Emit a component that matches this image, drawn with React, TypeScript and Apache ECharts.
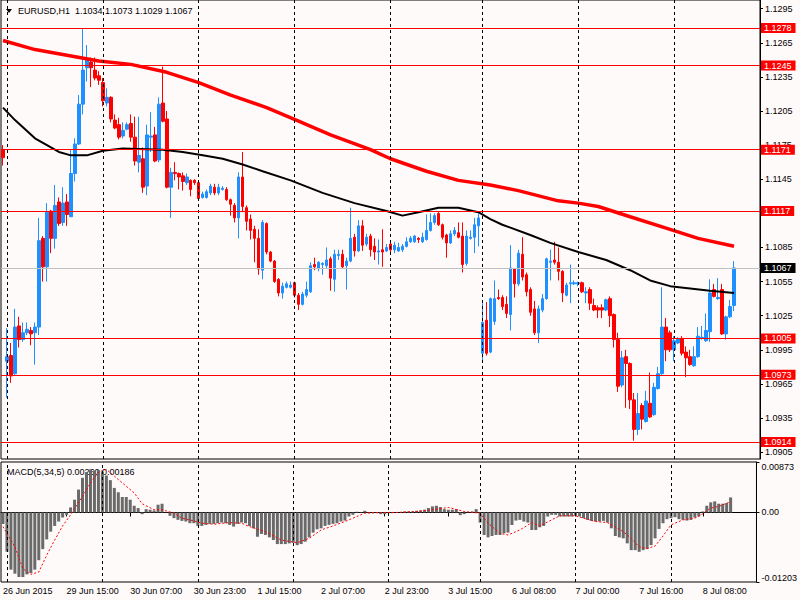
import React, { useEffect, useRef } from "react";
import * as echarts from "echarts";

const symbolTitle = "EURUSD,H1  1.1034 1.1073 1.1029 1.1067";
const macdTitle = "MACD(5,34,5) 0.00260 0.00186";

// trading sessions: [day, first hour, last hour]
const sessions: [string, number, number][] = [
  ["26 Jun", 23, 23], ["29 Jun", 0, 23], ["30 Jun", 0, 23], ["1 Jul", 0, 23], ["2 Jul", 0, 23],
  ["3 Jul", 0, 22], ["6 Jul", 0, 23], ["7 Jul", 0, 23], ["8 Jul", 0, 15],
];
const shiftBars = 6;
const firstLabel = "26 Jun 2015";
const labelIndex = [0, 16, 32, 48, 64, 80, 96, 112, 128, 144, 160, 176];
const daySeparators = [1, 25, 49, 73, 97, 120, 144, 168];

const levels = [1.1278, 1.1245, 1.1171, 1.1117, 1.1005, 1.0973, 1.0914];
const bidPrice = 1.1067;
// 1.1115 is hidden behind the 1.1117 tag in the reference, so it is not listed
const priceTicks = [1.0905, 1.0935, 1.0965, 1.0995, 1.1025, 1.1055, 1.1085, 1.1145, 1.1175, 1.1205, 1.1235, 1.1265, 1.1295];
const macdTicks = [-0.01203, 0, 0.00873];

const opens = [
  1.1171, 1.0985, 1.0990, 1.0974, 1.1016, 1.1004, 1.1010, 1.1012, 1.1010, 1.1015,
  1.1093, 1.1068, 1.1117, 1.1093, 1.1125, 1.1107, 1.1125, 1.1112, 1.1150, 1.1176,
  1.1211, 1.1243, 1.1248, 1.1241, 1.1236, 1.1230, 1.1212, 1.1217, 1.1197, 1.1193,
  1.1183, 1.1189, 1.1194, 1.1182, 1.1160, 1.1163, 1.1139, 1.1182, 1.1184, 1.1162,
  1.1212, 1.1198, 1.1138, 1.1151, 1.1150, 1.1148, 1.1142, 1.1144, 1.1144, 1.1142,
  1.1129, 1.1129, 1.1133, 1.1138, 1.1133, 1.1136, 1.1136, 1.1127, 1.1122, 1.1111,
  1.1147, 1.1120, 1.1110, 1.1101, 1.1093, 1.1065, 1.1106, 1.1081, 1.1073, 1.1057,
  1.1045, 1.1050, 1.1050, 1.1054, 1.1043, 1.1035, 1.1043, 1.1046, 1.1070, 1.1067,
  1.1070, 1.1069, 1.1075, 1.1057, 1.1078, 1.1079, 1.1069, 1.1073, 1.1094, 1.1082,
  1.1104, 1.1088, 1.1095, 1.1086, 1.1081, 1.1083, 1.1082, 1.1088, 1.1083, 1.1082,
  1.1083, 1.1086, 1.1090, 1.1090, 1.1093, 1.1090, 1.1092, 1.1100, 1.1107, 1.1115,
  1.1105, 1.1096, 1.1089, 1.1097, 1.1098, 1.1095, 1.1071, 1.1093, 1.1094, 1.1104,
  1.0992, 1.1021, 1.0993, 1.1020, 1.1041, 1.1041, 1.1035, 1.1026, 1.1066, 1.1053,
  1.1079, 1.1061, 1.1048, 1.1031, 1.1010, 1.1030, 1.1040, 1.1072, 1.1074, 1.1072,
  1.1064, 1.1043, 1.1053, 1.1053, 1.1053, 1.1054, 1.1045, 1.1048, 1.1034, 1.1032,
  1.1032, 1.1030, 1.1040, 1.1026, 1.1004, 1.0964, 1.0989, 1.0983, 1.0951, 1.0925,
  1.0946, 1.0932, 1.0948, 1.0938, 1.0961, 1.0974, 1.1015, 1.1010, 1.0995, 1.1001,
  1.1005, 1.0993, 1.0989, 1.0981, 1.0989, 1.1005, 1.1003, 1.1011, 1.1048, 1.1040,
  1.1048, 1.1009, 1.1024, 1.1034,
];
const closes = [
  1.1164, 1.0989, 1.0972, 1.1015, 1.1004, 1.1010, 1.1013, 1.1009, 1.1015, 1.1091,
  1.1068, 1.1116, 1.1093, 1.1122, 1.1106, 1.1124, 1.1114, 1.1150, 1.1176, 1.1211,
  1.1241, 1.1250, 1.1243, 1.1234, 1.1232, 1.1214, 1.1217, 1.1198, 1.1190, 1.1182,
  1.1188, 1.1193, 1.1182, 1.1161, 1.1166, 1.1138, 1.1184, 1.1183, 1.1161, 1.1211,
  1.1196, 1.1138, 1.1151, 1.1150, 1.1147, 1.1143, 1.1147, 1.1136, 1.1142, 1.1128,
  1.1132, 1.1134, 1.1139, 1.1133, 1.1138, 1.1137, 1.1127, 1.1123, 1.1111, 1.1147,
  1.1121, 1.1108, 1.1100, 1.1093, 1.1066, 1.1107, 1.1081, 1.1073, 1.1055, 1.1045,
  1.1051, 1.1053, 1.1052, 1.1043, 1.1035, 1.1044, 1.1048, 1.1069, 1.1068, 1.1072,
  1.1071, 1.1074, 1.1058, 1.1079, 1.1079, 1.1068, 1.1073, 1.1093, 1.1082, 1.1104,
  1.1087, 1.1094, 1.1083, 1.1081, 1.1082, 1.1081, 1.1085, 1.1083, 1.1087, 1.1085,
  1.1086, 1.1090, 1.1093, 1.1095, 1.1092, 1.1094, 1.1100, 1.1107, 1.1113, 1.1105,
  1.1094, 1.1089, 1.1097, 1.1100, 1.1094, 1.1070, 1.1095, 1.1094, 1.1105, 1.1111,
  1.1019, 1.0992, 1.1040, 1.1040, 1.1040, 1.1033, 1.1027, 1.1067, 1.1053, 1.1080,
  1.1059, 1.1046, 1.1028, 1.1010, 1.1031, 1.1040, 1.1075, 1.1073, 1.1072, 1.1064,
  1.1045, 1.1052, 1.1054, 1.1054, 1.1054, 1.1046, 1.1046, 1.1036, 1.1030, 1.1030,
  1.1030, 1.1039, 1.1025, 1.1004, 1.0963, 1.0988, 1.0983, 1.0951, 1.0925, 1.0939,
  1.0934, 1.0950, 1.0936, 1.0962, 1.0974, 1.1015, 1.0995, 1.0995, 1.1003, 1.1005,
  1.0992, 1.0988, 1.0982, 1.0989, 1.1007, 1.1006, 1.1012, 1.1045, 1.1042, 1.1041,
  1.1009, 1.1024, 1.1033, 1.1067,
];
const lows = [
  1.1157, 1.0953, 1.0966, 1.0973, 1.0997, 1.1002, 1.1008, 1.0999, 1.0982, 1.1008,
  1.1055, 1.1055, 1.1080, 1.1084, 1.1104, 1.1104, 1.1104, 1.1112, 1.1143, 1.1175,
  1.1202, 1.1231, 1.1226, 1.1232, 1.1228, 1.1209, 1.1209, 1.1195, 1.1189, 1.1180,
  1.1181, 1.1188, 1.1178, 1.1157, 1.1151, 1.1133, 1.1131, 1.1169, 1.1160, 1.1160,
  1.1195, 1.1137, 1.1111, 1.1144, 1.1136, 1.1135, 1.1140, 1.1130, 1.1140, 1.1127,
  1.1128, 1.1128, 1.1131, 1.1131, 1.1131, 1.1135, 1.1126, 1.1113, 1.1107, 1.1093,
  1.1116, 1.1100, 1.1092, 1.1072, 1.1061, 1.1057, 1.1079, 1.1072, 1.1054, 1.1042,
  1.1040, 1.1049, 1.1049, 1.1041, 1.1030, 1.1034, 1.1041, 1.1045, 1.1065, 1.1064,
  1.1061, 1.1067, 1.1047, 1.1046, 1.1074, 1.1067, 1.1048, 1.1072, 1.1077, 1.1081,
  1.1082, 1.1086, 1.1077, 1.1074, 1.1070, 1.1068, 1.1081, 1.1081, 1.1080, 1.1081,
  1.1081, 1.1085, 1.1089, 1.1089, 1.1089, 1.1089, 1.1091, 1.1099, 1.1105, 1.1104,
  1.1092, 1.1076, 1.1088, 1.1095, 1.1093, 1.1063, 1.1069, 1.1092, 1.1080, 1.1086,
  1.0986, 1.0990, 1.0992, 1.1017, 1.1039, 1.1030, 1.1023, 1.1012, 1.1041, 1.1051,
  1.1056, 1.1042, 1.1025, 1.1008, 1.1001, 1.1028, 1.1039, 1.1056, 1.1070, 1.1056,
  1.1037, 1.1042, 1.1036, 1.1052, 1.1051, 1.1045, 1.1036, 1.1030, 1.1029, 1.1023,
  1.1023, 1.1029, 1.1015, 1.0997, 1.0958, 1.0962, 1.0944, 1.0943, 1.0915, 1.0920,
  1.0925, 1.0931, 1.0935, 1.0937, 1.0960, 1.0973, 1.0985, 1.0993, 1.0985, 1.1000,
  1.0990, 1.0971, 1.0981, 1.0980, 1.0988, 1.1004, 1.1002, 1.1002, 1.1041, 1.1039,
  1.1008, 1.1004, 1.1023, 1.1029,
];
const highs = [
  1.1175, 1.1014, 1.1001, 1.1031, 1.1024, 1.1019, 1.1019, 1.1015, 1.1019, 1.1111,
  1.1095, 1.1124, 1.1118, 1.1140, 1.1129, 1.1138, 1.1132, 1.1171, 1.1181, 1.1219,
  1.1277, 1.1263, 1.1252, 1.1252, 1.1240, 1.1234, 1.1225, 1.1218, 1.1202, 1.1199,
  1.1195, 1.1195, 1.1202, 1.1200, 1.1200, 1.1173, 1.1193, 1.1204, 1.1191, 1.1217,
  1.1244, 1.1205, 1.1155, 1.1160, 1.1151, 1.1151, 1.1150, 1.1145, 1.1145, 1.1143,
  1.1134, 1.1136, 1.1141, 1.1141, 1.1141, 1.1139, 1.1138, 1.1128, 1.1124, 1.1151,
  1.1169, 1.1122, 1.1114, 1.1104, 1.1101, 1.1109, 1.1107, 1.1082, 1.1074, 1.1058,
  1.1054, 1.1055, 1.1055, 1.1055, 1.1045, 1.1046, 1.1055, 1.1072, 1.1076, 1.1073,
  1.1072, 1.1085, 1.1077, 1.1083, 1.1083, 1.1083, 1.1076, 1.1120, 1.1097, 1.1109,
  1.1109, 1.1097, 1.1097, 1.1093, 1.1092, 1.1101, 1.1088, 1.1090, 1.1090, 1.1089,
  1.1088, 1.1094, 1.1095, 1.1096, 1.1094, 1.1098, 1.1114, 1.1115, 1.1115, 1.1116,
  1.1106, 1.1097, 1.1100, 1.1103, 1.1107, 1.1107, 1.1100, 1.1100, 1.1111, 1.1115,
  1.1036, 1.1037, 1.1041, 1.1056, 1.1048, 1.1043, 1.1042, 1.1087, 1.1067, 1.1083,
  1.1094, 1.1063, 1.1050, 1.1038, 1.1034, 1.1044, 1.1076, 1.1083, 1.1090, 1.1085,
  1.1065, 1.1054, 1.1070, 1.1056, 1.1055, 1.1055, 1.1050, 1.1050, 1.1040, 1.1034,
  1.1035, 1.1040, 1.1042, 1.1027, 1.1010, 1.0994, 1.0995, 1.0984, 1.0957, 1.0957,
  1.0948, 1.0959, 1.0975, 1.0966, 1.0980, 1.1050, 1.1023, 1.1012, 1.1007, 1.1006,
  1.1007, 1.0998, 1.0995, 1.0998, 1.1015, 1.1016, 1.1027, 1.1057, 1.1053, 1.1058,
  1.1053, 1.1025, 1.1039, 1.1073,
];

// moving averages read at sampled bars: [bar index, value]
const blackMA: [number, number][] = [
  [0, 1.1208], [3, 1.1197], [8, 1.1181], [10, 1.1177], [14, 1.1169], [17, 1.1166], [21, 1.1166],
  [25, 1.1170], [30, 1.1172], [40, 1.1171], [45, 1.1169], [50, 1.1166], [55, 1.1163], [60, 1.1158],
  [65, 1.1152], [72, 1.1144], [80, 1.1133], [88, 1.1124], [96, 1.1117], [100, 1.1113], [104, 1.1116],
  [109, 1.1120], [114, 1.1120], [119, 1.1116], [122, 1.1110], [125, 1.1105], [132, 1.1096],
  [137, 1.1089], [144, 1.1081], [151, 1.1074], [157, 1.1065], [162, 1.1056], [167, 1.1051],
  [172, 1.1049], [177, 1.1047], [183, 1.1045],
];
const redMA: [number, number][] = [
  [0, 1.1267], [8, 1.1259], [16, 1.1254], [24, 1.1249], [32, 1.1246], [41, 1.1239], [49, 1.1230],
  [57, 1.1219], [66, 1.1208], [74, 1.1196], [82, 1.1184], [92, 1.1171], [97, 1.1163], [106, 1.1152],
  [114, 1.1144], [122, 1.1140], [129, 1.1135], [139, 1.1126], [144, 1.1124], [149, 1.1121],
  [157, 1.1112], [166, 1.1102], [174, 1.1093], [183, 1.1086],
];

const macdHist = [
  -0.00198, -0.00681, -0.00989, -0.01059, -0.01117, -0.01117, -0.01071, -0.01048, -0.00989, -0.00826,
  -0.00634, -0.00466, -0.00332, -0.00233, -0.00157, -0.00087, -0.00041, 0.00087, 0.00221, 0.00396,
  0.00599, 0.00698, 0.00745, 0.00728, 0.00733, 0.00698, 0.0064, 0.00559, 0.00425, 0.00349,
  0.00268, 0.00268, 0.00221, 0.00116, 0.00076, -0.00029, 0.00058, 0.00047, 0.00035, 0.00134,
  0.00151, 0.00005, -0.00058, -0.00099, -0.00128, -0.00146, -0.00157, -0.00186, -0.00186, -0.00233,
  -0.00233, -0.00215, -0.00198, -0.00198, -0.00186, -0.00175, -0.00186, -0.00215, -0.00244, -0.00198,
  -0.00175, -0.00186, -0.00233, -0.00274, -0.00419, -0.00372, -0.0039, -0.00431, -0.00477, -0.00547,
  -0.00547, -0.00547, -0.00535, -0.00524, -0.00565, -0.00547, -0.00506, -0.00431, -0.00349, -0.00291,
  -0.00274, -0.00233, -0.00215, -0.00198, -0.00186, -0.00157, -0.0014, -0.0007, -0.00041, 0.00012,
  0.00006, 0.00029, -0.00012, -0.00012, -0.00012, -0.00029, -0.00029, -0.00012, -0.00012, -0.00006,
  0.00002, 0.00017, 0.00017, 0.00017, 0.00029, 0.00035, 0.00047, 0.00076, 0.00105, 0.00116,
  0.00093, 0.00058, 0.00047, 0.00047, 0.00058, -0.00047, -0.00029, -0.00003, 0.00017, 0.00058,
  -0.00175, -0.0039, -0.00431, -0.00407, -0.0039, -0.0039, -0.00361, -0.00349, -0.00215, -0.0014,
  -0.00128, -0.00157, -0.00175, -0.00303, -0.00303, -0.00256, -0.00233, -0.0007, -0.00041, -0.00041,
  -0.0007, -0.0007, -0.0007, -0.0007, -0.00058, -0.0007, -0.00099, -0.00128, -0.00146, -0.00157,
  -0.00157, -0.00146, -0.00175, -0.00274, -0.00407, -0.00431, -0.00448, -0.00535, -0.00652, -0.00652,
  -0.00681, -0.00652, -0.00634, -0.00565, -0.00448, -0.00285, -0.00186, -0.00116, -0.00099, -0.00081,
  -0.00116, -0.00128, -0.0014, -0.00128, -0.00087, -0.0007, 0.00017, 0.00116, 0.00175, 0.00192,
  0.00151, 0.00151, 0.00163, 0.0026,
];
const macdSignal: [number, number][] = [
  [0, -0.00244], [3, -0.00594], [5, -0.00972], [7, -0.01071], [9, -0.0103], [11, -0.00739], [13, -0.00477],
  [15, -0.00233], [17, -0.00041], [20, 0.00279], [22, 0.00512], [24, 0.00698], [26, 0.00745], [28, 0.00629],
  [30, 0.00512], [33, 0.00338], [35, 0.00151], [38, 0.00047], [40, 0.00047], [43, -0.00012], [45, -0.00099],
  [48, -0.00146], [50, -0.00186], [53, -0.00204], [57, -0.00175], [60, -0.00186], [62, -0.00244],
  [66, -0.00332], [70, -0.00477], [74, -0.00524], [77, -0.00448], [80, -0.00303], [83, -0.00233],
  [86, -0.00157], [88, -0.00099], [91, -0.00012], [95, 0], [99, 0], [104, 0.00017], [108, 0.00047],
  [112, 0.00087], [116, 0.00017], [120, -0.00012], [122, -0.00186], [125, -0.00361], [127, -0.0039],
  [130, -0.00303], [133, -0.00175], [135, -0.00233], [138, -0.00128], [140, -0.00058], [144, -0.00058],
  [149, -0.00157], [152, -0.00175], [156, -0.00332], [158, -0.00448], [160, -0.00594], [162, -0.00623],
  [164, -0.00582], [166, -0.00407], [168, -0.00215], [171, -0.00128], [174, -0.00099], [176, -0.00023],
  [178, 0.00076], [180, 0.00105], [183, 0.00186],
];

const FONT = "Liberation Sans, Arial, sans-serif";
const BULL = "#1E90FF";
const BEAR = "#FF0000";

function buildCategories(): string[] {
  const out: string[] = [];
  sessions.forEach(([d, a, b]) => {
    for (let h = a; h <= b; h++) out.push(`${d} ${h < 10 ? "0" + h : h}:00`);
  });
  for (let k = 0; k < shiftBars; k++) out.push(" ".repeat(k + 1));
  return out;
}

function sparse(n: number, pts: [number, number][]) {
  const arr: (number | null)[] = new Array(n).fill(null);
  pts.forEach(([i, v]) => (arr[i] = v));
  return arr;
}

export default function App() {
  const ref = useRef<HTMLDivElement>(null);
  useEffect(() => {
    if (!ref.current) return;
    const chart = echarts.init(ref.current, null, { renderer: "svg" });
    const cats = buildCategories();
    const n = cats.length;
    const candles = opens.map((o, i) => [o, closes[i], lows[i], highs[i]]);
    const showIdx = (i: number) => labelIndex.indexOf(i) >= 0;
    const sepLines = daySeparators.map((i) => ({ xAxis: i }));
    const sepMark = {
      silent: true,
      symbol: ["none", "none"],
      label: { show: false },
      lineStyle: { color: "#000", type: [3, 3], width: 1 },
      data: sepLines,
    };
    const levelLabel = (bg: string) => ({
      show: true,
      position: "end",
      distance: 1,
      formatter: (p: any) => Number(p.value).toFixed(4),
      backgroundColor: bg,
      color: "#fff",
      fontFamily: FONT,
      fontSize: 9,
      lineHeight: 10,
      padding: [0, 4, 0, 3],
    });
    const option: any = {
      animation: false,
      backgroundColor: "#FFFAFA",
      textStyle: { fontFamily: FONT },
      grid: [
        { left: 1, top: 0, width: 759, height: 459, show: true, borderColor: "#000", borderWidth: 1, backgroundColor: "transparent" },
        { left: 1, top: 462, width: 759, height: 120, show: true, borderColor: "#000", borderWidth: 1, backgroundColor: "transparent" },
      ],
      xAxis: [
        {
          type: "category", gridIndex: 0, data: cats, boundaryGap: true,
          axisLine: { show: false }, axisTick: { show: false }, axisLabel: { show: false }, splitLine: { show: false },
        },
        {
          type: "category", gridIndex: 1, data: cats, boundaryGap: true,
          axisLine: { show: true, lineStyle: { color: "#000", width: 1 } },
          axisTick: { show: true, interval: (i: number) => showIdx(i), alignWithLabel: true, length: 4, lineStyle: { color: "#000" } },
          axisLabel: {
            interval: (i: number) => showIdx(i),
            formatter: (v: string, i: number) => (i === 0 ? firstLabel : v),
            align: "left", color: "#000", fontSize: 9, fontFamily: FONT, margin: 4, hideOverlap: false,
          },
          splitLine: { show: false },
        },
      ],
      yAxis: [
        {
          type: "value", gridIndex: 0, position: "right", min: 1.0899, max: 1.13026, scale: true,
          axisLine: { show: true, lineStyle: { color: "#000" } },
          axisTick: { show: true, customValues: priceTicks, length: 3, lineStyle: { color: "#000" } },
          axisLabel: { customValues: priceTicks, formatter: (v: number) => v.toFixed(4), color: "#000", fontSize: 9, fontFamily: FONT, margin: 5 },
          splitLine: { show: false },
        },
        {
          type: "value", gridIndex: 1, position: "right", min: -0.01203, max: 0.00873,
          axisLine: { show: true, lineStyle: { color: "#000" } },
          axisTick: { show: true, customValues: macdTicks, length: 3, lineStyle: { color: "#000" } },
          axisLabel: {
            customValues: macdTicks,
            formatter: (v: number) => (Math.abs(v) < 1e-9 ? "0.00" : v.toFixed(5)),
            color: "#000", fontSize: 9, fontFamily: FONT, margin: 5,
            verticalAlignMinLabel: "bottom", verticalAlignMaxLabel: "top",
          },
          splitLine: { show: false },
        },
      ],
      series: [
        {
          name: "sep", type: "line", xAxisIndex: 0, yAxisIndex: 0, data: new Array(n).fill(null),
          showSymbol: false, silent: true, markLine: sepMark,
        },
        {
          name: "levels", type: "line", xAxisIndex: 0, yAxisIndex: 0, data: new Array(n).fill(null),
          showSymbol: false, silent: true,
          markLine: {
            silent: true,
            precision: 5,
            symbol: ["none", "none"],
            data: [
              ...levels.map((v) => ({ yAxis: v, lineStyle: { color: "#FF0000", type: "solid", width: 1 }, label: levelLabel("#FF0000") })),
              { yAxis: bidPrice, lineStyle: { color: "#C0C0C0", type: "solid", width: 1 }, label: levelLabel("#000000") },
            ],
          },
        },
        {
          name: "EURUSD", type: "candlestick", xAxisIndex: 0, yAxisIndex: 0, data: candles, barWidth: 3,
          itemStyle: { color: BULL, color0: BEAR, borderColor: BULL, borderColor0: BEAR, borderWidth: 1 },
        },
        {
          name: "MA black", type: "line", xAxisIndex: 0, yAxisIndex: 0, data: sparse(n, blackMA), connectNulls: true,
          showSymbol: false, lineStyle: { color: "#000", width: 2 }, silent: true,
        },
        {
          name: "MA red", type: "line", xAxisIndex: 0, yAxisIndex: 0, data: sparse(n, redMA), connectNulls: true,
          showSymbol: false, lineStyle: { color: "#FF0000", width: 3.5 }, silent: true,
        },
        {
          name: "sep2", type: "line", xAxisIndex: 1, yAxisIndex: 1, data: new Array(n).fill(null),
          showSymbol: false, silent: true, markLine: sepMark,
        },
        {
          name: "MACD", type: "bar", xAxisIndex: 1, yAxisIndex: 1, data: macdHist, barWidth: 3,
          itemStyle: { color: "#6A6A6A" }, silent: true,
        },
        {
          name: "Signal", type: "line", xAxisIndex: 1, yAxisIndex: 1, data: sparse(n, macdSignal), connectNulls: true,
          showSymbol: false, lineStyle: { color: "#FF0000", width: 1, type: [2, 2] }, silent: true,
        },
      ],
      graphic: [
        { type: "polygon", shape: { points: [[6, 9], [12, 9], [9, 13]] }, style: { fill: "#000" } },
        { type: "text", x: 18, y: 11, style: { text: symbolTitle, fill: "#000", font: `9px ${FONT}`, textVerticalAlign: "middle" } },
        { type: "text", x: 7, y: 472, style: { text: macdTitle, fill: "#000", font: `9px ${FONT}`, textVerticalAlign: "middle" } },
      ],
    };
    chart.setOption(option);
    return () => chart.dispose();
  }, []);
  return (
    <div
      ref={ref}
      style={{ position: "fixed", left: 0, top: 0, width: 800, height: 600, background: "#FFFAFA" }}
    />
  );
}
